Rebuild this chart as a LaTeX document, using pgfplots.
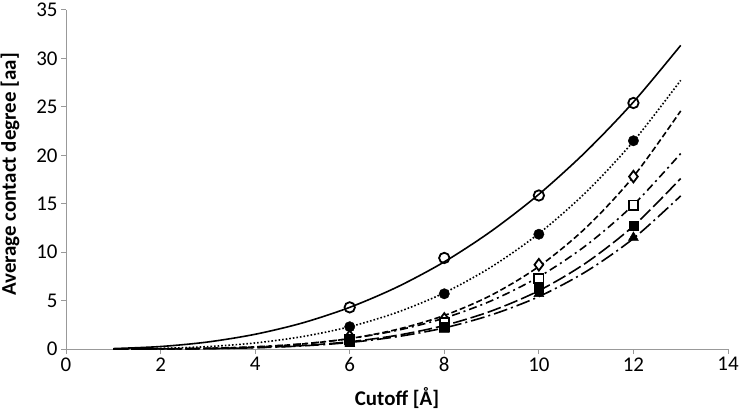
\documentclass[border=0pt]{standalone}
\usepackage{pgfplots}
\pgfplotsset{compat=1.18}
\usepackage{fontspec}
\setmainfont{Carlito}
\begin{document}
\begin{tikzpicture}
\useasboundingbox (0bp,0bp) rectangle (742bp,411bp);
\begin{axis}[
  at={(66bp,62bp)}, anchor=south west,
  scale only axis, width=662bp, height=339bp,
  xmin=0, xmax=14, ymin=0, ymax=35,
  xtick={0,2,...,14}, ytick={0,5,...,35},
  axis x line=bottom, axis y line=left,
  axis line style={-, draw=gray!80, line width=1bp},
  tick style={draw=gray!80, line width=1bp},
  tick align=outside, major tick length=5bp,
  /pgf/number format/assume math mode=true,
  tick label style={font=\fontsize{21}{24}\selectfont},
  xlabel={\textbf{Cutoff [Å]}},
  ylabel={\textbf{Average contact degree [aa]}},
  label style={font=\fontsize{21}{24}\selectfont},
  xlabel style={at={(axis description cs:0.5,-0.144)}, anchor=center},
  ylabel style={at={(axis description cs:-0.0846,0.515)}, anchor=center},
  clip=false,
]
% trend lines
\addplot[black, line width=1.6bp, smooth] coordinates {
(1,0.043)(2,0.255)(3,0.724)(4,1.52)(5,2.69)(6,4.30)(7,6.39)(8,9.00)(9,12.19)(10,15.97)(11,20.4)(12,25.5)(13,31.35)};
\addplot[black, line width=1.6bp, smooth, dash pattern=on 1.6bp off 2bp] coordinates {
(1,0.007)(2,0.067)(3,0.247)(4,0.623)(5,1.28)(6,2.30)(7,3.78)(8,5.80)(9,8.49)(10,11.92)(11,16.2)(12,21.44)(13,27.74)};
\addplot[black, line width=1.6bp, smooth, dash pattern=on 6bp off 3bp] coordinates {
(1,0.001)(2,0.013)(3,0.066)(4,0.210)(5,0.518)(6,1.08)(7,2.02)(8,3.46)(9,5.57)(10,8.52)(11,12.54)(12,17.80)(13,24.58)};
\addplot[black, line width=1.6bp, smooth, dash pattern=on 8bp off 4bp on 2bp off 4bp] coordinates {
(1,0.001)(2,0.016)(3,0.077)(4,0.229)(5,0.534)(6,1.07)(7,1.92)(8,3.19)(9,4.99)(10,7.45)(11,10.7)(12,14.89)(13,20.18)};
\addplot[black, line width=1.6bp, smooth, dash pattern=on 14bp off 4bp] coordinates {
(1,0.0005)(2,0.0085)(3,0.044)(4,0.144)(5,0.356)(6,0.75)(7,1.41)(8,2.43)(9,3.93)(10,6.02)(11,8.90)(12,12.70)(13,17.60)};
\addplot[black, line width=1.6bp, smooth, dash pattern=on 14bp off 4bp on 2bp off 4bp] coordinates {
(1,0.0005)(2,0.0076)(3,0.040)(4,0.129)(5,0.320)(6,0.675)(7,1.27)(8,2.18)(9,3.53)(10,5.41)(11,8.0)(12,11.41)(13,15.81)};
% markers
\addplot[only marks, mark=o, mark size=5.2bp, mark options={draw=black, fill=white, line width=1.8bp}] coordinates {(6,4.3)(8,9.4)(10,15.85)(12,25.4)};
\addplot[only marks, mark=*, mark size=5.2bp, mark options={draw=black, fill=black}] coordinates {(6,2.3)(8,5.7)(10,11.85)(12,21.5)};
\addplot[only marks, mark=diamond*, mark size=5.8bp, mark options={draw=black, fill=white, line width=1.8bp}] coordinates {(6,1.3)(8,3.1)(10,8.7)(12,17.8)};
\addplot[only marks, mark=square*, mark size=4.6bp, mark options={draw=black, fill=white, line width=1.8bp}] coordinates {(6,1.0)(8,2.7)(10,7.3)(12,14.86)};
\addplot[only marks, mark=square*, mark size=4.6bp, mark options={draw=black, fill=black}] coordinates {(6,0.8)(8,2.3)(10,6.25)(12,12.7)};
\addplot[only marks, mark=triangle*, mark size=5.8bp, mark options={draw=black, fill=black}] coordinates {(6,0.6)(8,2.0)(10,5.7)(12,11.5)};
\end{axis}
\end{tikzpicture}
\end{document}
